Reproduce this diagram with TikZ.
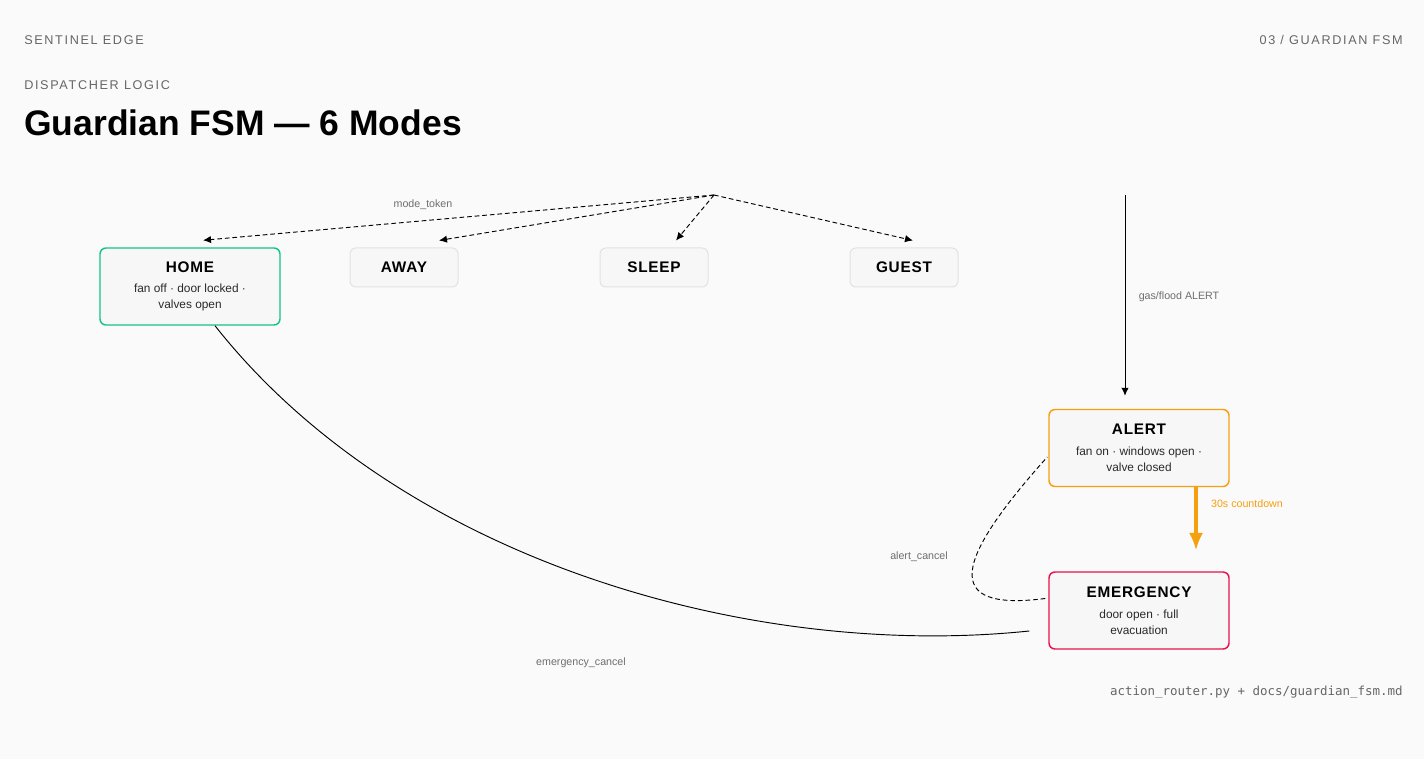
\documentclass[tikz,border=0pt]{standalone}
\usepackage{fontspec}
\setmainfont{Liberation Sans}
\setmonofont{DejaVu Sans Mono}
\usetikzlibrary{positioning, arrows.meta, calc}

\definecolor{bgpaper}{HTML}{FAFAFA}
\definecolor{boxfill}{HTML}{F7F7F7}
\definecolor{boxline}{HTML}{E2E2E2}
\definecolor{homegreen}{HTML}{12C48B}
\definecolor{alertorange}{HTML}{F5A00F}
\definecolor{emred}{HTML}{E8124F}
\definecolor{inkgray}{HTML}{666666}
\definecolor{labelgray}{HTML}{6E6E6E}

\tikzset{
    modebox/.style={draw=boxline, fill=boxfill, rounded corners=4.5pt, line width=0.75pt,
        minimum width=81pt, minimum height=29.25pt, inner sep=0pt,
        font=\fontsize{11.5}{13}\selectfont\bfseries\addfontfeature{LetterSpace=5}},
    statebox/.style={fill=boxfill, rounded corners=4.5pt, line width=1.1pt,
        minimum width=135pt, minimum height=57.75pt, inner sep=0pt, align=center},
    edgelabel/.style={text=labelgray, inner sep=0pt, font=\fontsize{8}{10}\selectfont},
    headtext/.style={text=inkgray, inner sep=0pt, font=\fontsize{9.5}{11}\selectfont\addfontfeature{LetterSpace=13}},
    modearrow/.style={-{Latex[length=6pt,width=5.5pt]}, dash pattern=on 3.5pt off 2.2pt, line width=0.7pt},
}
\newcommand{\statetitle}[1]{{\fontsize{11.5}{13}\selectfont\bfseries\addfontfeature{LetterSpace=5}#1}}
\newcommand{\statetext}{\fontsize{8.9}{11.25}\selectfont\color[HTML]{2A2A2A}}

\begin{document}
\begin{tikzpicture}[x=0.75pt, y=-0.75pt]
    \fill[bgpaper] (0,0) rectangle (1424,759);
    \useasboundingbox (0,0) rectangle (1424,759);

    % header
    \node[headtext, anchor=west] (brand) at (24,40) {SENTINEL EDGE};
    \node[headtext, anchor=east] (pageno) at (1403,40) {03 / GUARDIAN FSM};
    \node[headtext, anchor=west] (kicker) at (24,85) {DISPATCHER LOGIC};
    \node[anchor=west, inner sep=0pt, font=\fontsize{26.6}{30}\selectfont\bfseries] (title) at (24,123) {Guardian FSM — 6 Modes};

    % states
    \node[statebox, draw=homegreen] (home) at (190,286.5)
        {\statetitle{HOME}\\[3.5pt]\statetext fan off · door locked ·\\\statetext valves open};
    \node[modebox] (away) at (404,267.5) {AWAY};
    \node[modebox] (sleep) at (654,267.5) {SLEEP};
    \node[modebox] (guest) at (904,267.5) {GUEST};
    \node[statebox, draw=alertorange] (alert) at (1139,448)
        {\statetitle{ALERT}\\[3.5pt]\statetext fan on · windows open ·\\\statetext valve closed};
    \node[statebox, draw=emred] (emergency) at (1139,610.5)
        {\statetitle{EMERGENCY}\\[3.5pt]\statetext door open · full\\\statetext evacuation};

    \coordinate (token) at (714,195);
    \coordinate (sensor) at (1125,195);

    % mode selection
    \draw[modearrow] (token) -- ($(home.north)+(13,-7)$);
    \draw[modearrow] (token) -- ($(away.north)+(35,-7)$);
    \draw[modearrow] (token) -- ($(sleep.north)+(22,-7)$);
    \draw[modearrow] (token) -- ($(guest.north)+(9,-7)$);
    \node[edgelabel] (tokenlbl) at (423,205) {mode\_token};

    % hazard path
    \draw[-{Latex[length=6pt,width=5.5pt]}, line width=0.7pt] (sensor) -- ($(alert.north)+(-14,-13)$);
    \node[edgelabel] (gaslbl) at (1179,297) {gas/flood ALERT};
    \draw[-{Latex[length=13pt,width=10.5pt]}, alertorange, line width=2.3pt] ($(alert.south)+(57,0)$) -- ($(emergency.north)+(57,-21)$);
    \node[edgelabel, text=alertorange] (countlbl) at (1247,504) {30s countdown};

    % cancel paths
    \draw[dash pattern=on 3.5pt off 2.2pt, line width=0.7pt] ($(emergency.west)+(-3,-12)$) .. controls (940,612) and (955,560) .. ($(alert.west)+(-1,9)$);
    \node[edgelabel] (alertlbl) at (919,557) {alert\_cancel};
    \draw[line width=0.7pt] ($(home.south)+(25,0)$) .. controls (400,560) and (750,660) .. ($(emergency.west)+(-19,20.5)$);
    \node[edgelabel] (emlbl) at (581,663) {emergency\_cancel};

    % footer
    \node[anchor=east, inner sep=0pt, text=inkgray, font=\ttfamily\fontsize{9.35}{11}\selectfont] (source) at (1403,692) {action\_router.py + docs/guardian\_fsm.md};
\end{tikzpicture}
\end{document}
